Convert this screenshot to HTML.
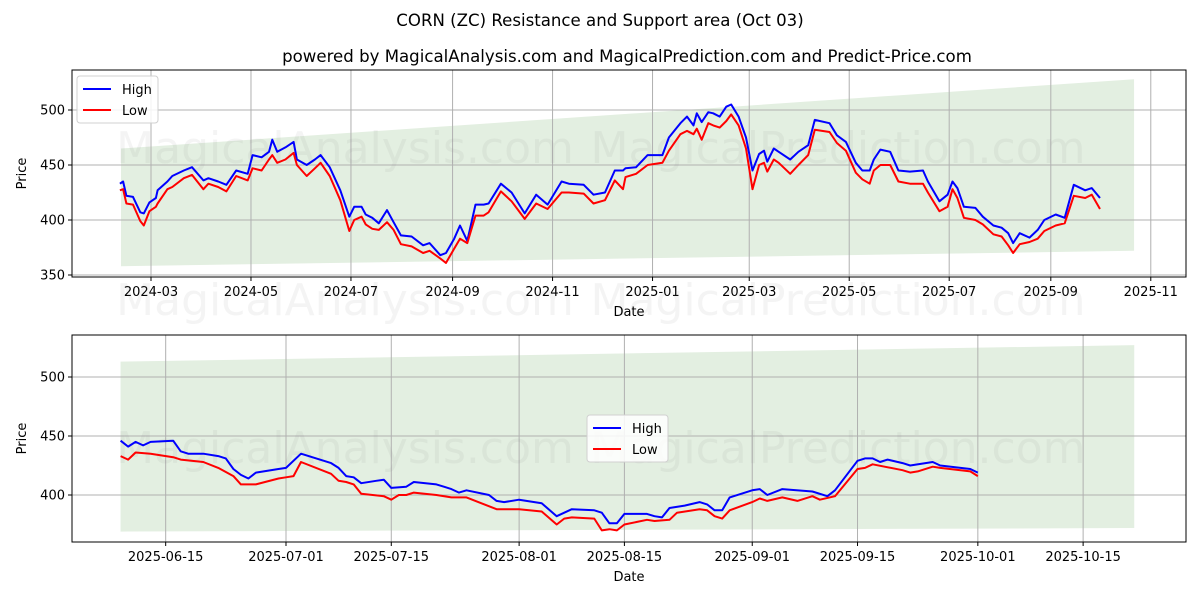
<!DOCTYPE html>
<html><head><meta charset="utf-8"><style>
body{margin:0;background:#fff;font-family:"Liberation Sans","DejaVu Sans",sans-serif}
svg text{font-family:"DejaVu Sans","Liberation Sans",sans-serif}
</style></head><body>
<svg id="chart" width="1200" height="600" xmlns="http://www.w3.org/2000/svg">
<text x="600" y="26" text-anchor="middle" font-size="16.6" fill="#000">CORN (ZC) Resistance and Support area (Oct 03)</text>
<text x="627" y="62" text-anchor="middle" font-size="16.6" fill="#000">powered by MagicalAnalysis.com and MagicalPrediction.com and Predict-Price.com</text>
<g id="top"></g>
<g id="bot"></g>
</svg>
<script>
// Top panel data (days since 2024-03-01)
const topDays=[-19,-17,-15,-11,-6.5,-4.4,-1,3,4,10,13,20,25,32,35,41,46,52,59,62,67.5,72,74,77,82,87,89,95,100,103.5,109,115.5,121,124,128.5,131,135,139,144,148,152.5,159,166,170,176.5,180,185,188.5,193,198,203,206,213.5,220,228,235,242,250.5,255,264,270,277,283,288,289.5,296,303,312,316,323,327,331,333,336,340,343,347,351,354,358.5,363,367,371,374,376,380,383,390,395,401,405,414,418.5,424,430,434,438.5,441,445,451,456,463,471,474,481,486,489,492,496,503,507.5,514,519,523,526,530,536,541,545,552,557.5,563,570,574,579];
const topHigh=[433,435,422,421,407,406,416,420,427,435,440,445,448,436,438,435,432,445,442,459,457,462,473,462,466,471,455,450,455,459,448,427,403,412,412,405,402,397,409,398,386,385,377,379,368,370,383,395,381,414,414,415,433,425,406,423,414,435,433,432,423,425,445,445,447,448,459,459,475,488,494,486,497,489,498,497,494,503,505,494,475,445,460,463,453,465,462,455,462,468,491,488,477,471,452,445,445,455,464,462,445,444,445,435,417,423,435,429,412,411,403,395,393,388,379,388,384,391,400,405,402,432,427,429,420];
const topLow=[427,428,415,414,399,395,408,412,415,428,430,438,441,428,433,430,426,440,436,447,445,455,459,452,455,461,450,440,447,452,440,418,390,400,403,396,392,391,398,391,378,376,370,372,365,361,374,383,379,404,404,407,426,417,401,415,410,425,425,424,415,418,436,428,439,442,450,452,463,478,481,478,483,473,488,486,484,490,496,486,465,428,450,452,444,455,452,442,450,459,482,480,470,463,443,437,433,445,450,450,435,433,433,425,408,412,428,420,402,400,396,387,385,377,370,378,380,383,390,395,397,422,420,423,410];
const topBandDays=[-18.3,599.8];
const topBandUpper=[465,528];
const topBandLower=[358,372];
const topYTicks=[350,400,450,500];
const topXTickLabels=["2024-03","2024-05","2024-07","2024-09","2024-11","2025-01","2025-03","2025-05","2025-07","2025-09","2025-11"];
const topXTickDays=[0,61,122,184,245,306,365,426,487,549,610];
// Bottom panel data (days since 2025-07-01)
const botHighDays=[-22,-21,-20,-19,-18,-15,-14,-13,-11,-9,-8,-7,-6,-5,-4,-1,0,2,6,7,8,9,10,12,13,14,16,17,20,21,22,23,24,27,28,29,31,34,36,38,41,42,43,44,45,48,49,50,51,53,55,56,57,58,59,62,63,64,66,70,72,73,76,77,78,79,80,82,83,86,87,91,92];
const botHigh=[446,441,445,442,445,446,437,435,435,433,431,422,417,414,419,422,423,435,427,423,416,415,410,412,413,406,407,411,409,407,405,402,404,400,395,394,396,393,382,388,387,385,376,376,384,384,382,381,389,391,394,392,387,387,398,404,405,400,405,403,399,404,429,431,431,428,430,427,425,428,425,422,419];
const botLowDays=[-22,-21,-20,-18,-15,-14,-11,-9,-7,-6,-4,-1,0,1,2,6,7,8,9,10,13,14,15,16,17,20,22,24,26,28,31,34,36,37,38,41,42,43,44,45,48,49,51,52,55,56,57,58,59,62,63,64,66,68,70,71,73,76,77,78,82,83,84,86,87,91,92];
const botLow=[433,430,436,435,432,430,428,423,416,409,409,414,415,416,428,418,412,411,409,401,399,396,400,400,402,400,398,398,393,388,388,386,375,380,381,380,370,371,370,375,379,378,379,385,388,387,382,380,387,394,397,395,398,395,399,396,399,422,423,426,421,419,420,424,423,420,416];
const botBandDays=[-22,112.8];
const botBandUpper=[513,527];
const botBandLower=[369,372];
const botYTicks=[400,450,500];
const botXTickLabels=["2025-06-15","2025-07-01","2025-07-15","2025-08-01","2025-08-15","2025-09-01","2025-09-15","2025-10-01","2025-10-15"];
const botXTickDays=[-16,0,14,31,45,62,76,92,106];

const NS="http://www.w3.org/2000/svg";
function mk(tag,attrs,parent){const e=document.createElementNS(NS,tag);for(const k in attrs)e.setAttribute(k,attrs[k]);parent.appendChild(e);return e;}

function panel(g,cfg){
  const {L,R,T,B,xs,ys}=cfg;
  const band=mk('polygon',{points:`${xs(cfg.bandDays[0])},${ys(cfg.bandUp[0])} ${xs(cfg.bandDays[1])},${ys(cfg.bandUp[1])} ${xs(cfg.bandDays[1])},${ys(cfg.bandLo[1])} ${xs(cfg.bandDays[0])},${ys(cfg.bandLo[0])}`,fill:'#e3efe1'},g);
  
  
  cfg.yTicks.forEach(v=>{const y=ys(v);
    const l=mk('line',{x1:L,x2:R,y1:y,y2:y,stroke:'#b0b0b0','stroke-width':1},g);
    
    
    mk('line',{x1:L-4,x2:L,y1:y,y2:y,stroke:'#000'},g);
    const t=mk('text',{x:L-7,y:y+4.5,'text-anchor':'end','font-size':13},g);t.textContent=v;
    
    
  });
  cfg.xTickDays.forEach((d,i)=>{const x=xs(d);
    const l=mk('line',{x1:x,x2:x,y1:T,y2:B,stroke:'#b0b0b0','stroke-width':1},g);
    
    
    mk('line',{x1:x,x2:x,y1:B,y2:B+4,stroke:'#000'},g);
    const t=mk('text',{x:x,y:B+19,'text-anchor':'middle','font-size':13},g);t.textContent=cfg.xLabels[i];
    
    
  });
  cfg.wm.forEach(w=>{const t=mk('text',{x:w[0],y:w[1],'text-anchor':'middle','font-size':44,fill:'#808080','fill-opacity':0.09},g);t.textContent=w[2];
    
    });
  const pathOf=(ds,vs)=>ds.map((d,i)=>(i?'L':'M')+xs(d).toFixed(1)+','+ys(vs[i]).toFixed(1)).join('');
  const hp=mk('path',{d:pathOf(cfg.hDays,cfg.high),fill:'none',stroke:'#0000ff','stroke-width':2,'stroke-linejoin':'round'},g);
  
  
  const lp=mk('path',{d:pathOf(cfg.lDays,cfg.low),fill:'none',stroke:'#ff0000','stroke-width':2,'stroke-linejoin':'round'},g);
  
  
  const fr=mk('rect',{x:L,y:T,width:R-L,height:B-T,fill:'none',stroke:'#000','stroke-width':1},g);
  
  
  const xl=mk('text',{x:(L+R)/2,y:B+39,'text-anchor':'middle','font-size':13},g);xl.textContent='Date';
  
  
  const yl=mk('text',{x:0,y:0,'text-anchor':'middle','font-size':13,transform:`translate(${L-46},${(T+B)/2}) rotate(-90)`},g);yl.textContent='Price';
  
  
  const [lx,ly]=cfg.leg;
  const lg=mk('g',{},g);
  
  
  mk('rect',{x:lx,y:ly,width:81,height:47,rx:3,fill:'#fff','fill-opacity':0.85,stroke:'#d0d0d0'},lg);
  mk('line',{x1:lx+6,x2:lx+34,y1:ly+13,y2:ly+13,stroke:'#0000ff','stroke-width':2},lg);
  mk('line',{x1:lx+6,x2:lx+34,y1:ly+34,y2:ly+34,stroke:'#ff0000','stroke-width':2},lg);
  const t1=mk('text',{x:lx+45,y:ly+18,'font-size':13},lg);t1.textContent='High';
  
  
  const t2=mk('text',{x:lx+45,y:ly+39,'font-size':13},lg);t2.textContent='Low';
  
  
}

panel(document.getElementById('top'),{L:72,R:1186,T:70,B:277,
  xs:d=>151+d*1.639, ys:v=>110+(500-v)*1.1,
  bandDays:topBandDays,bandUp:topBandUpper,bandLo:topBandLower,
  yTicks:topYTicks,xTickDays:topXTickDays,xLabels:topXTickLabels,
  hDays:topDays,high:topHigh,lDays:topDays,low:topLow,
  wm:[[345,163,'MagicalAnalysis.com'],[838,163,'MagicalPrediction.com'],[345,315,'MagicalAnalysis.com'],[838,315,'MagicalPrediction.com']],
  leg:[77,76]});
panel(document.getElementById('bot'),{L:72,R:1186,T:335,B:542,
  xs:d=>286+d*7.52, ys:v=>377+(500-v)*1.18,
  bandDays:botBandDays,bandUp:botBandUpper,bandLo:botBandLower,
  yTicks:botYTicks,xTickDays:botXTickDays,xLabels:botXTickLabels,
  hDays:botHighDays,high:botHigh,lDays:botLowDays,low:botLow,
  wm:[[345,463,'MagicalAnalysis.com'],[838,463,'MagicalPrediction.com']],
  leg:[587,415]});
</script>
</body></html>
